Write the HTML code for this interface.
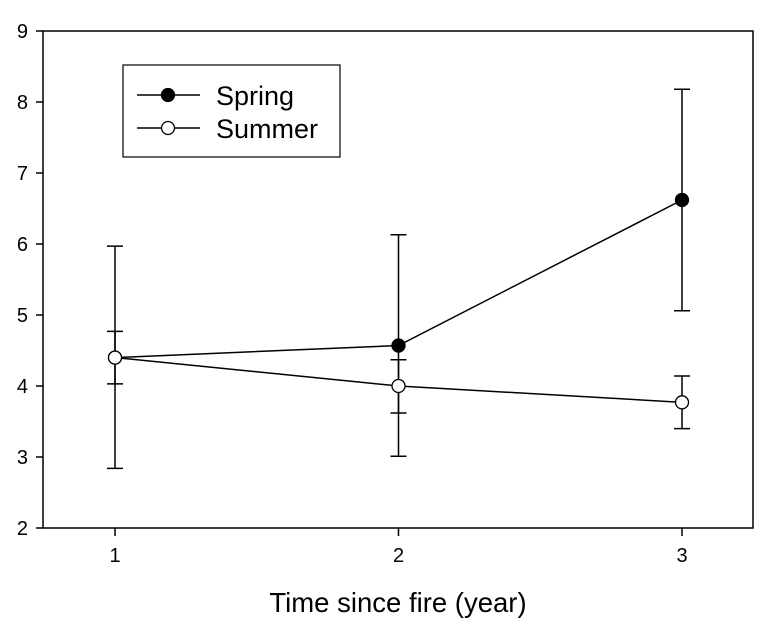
<!DOCTYPE html>
<html><head><meta charset="utf-8"><style>
html,body{margin:0;padding:0;background:#fff;}
svg{display:block;font-family:"Liberation Sans",Arial,sans-serif;}
</style></head><body>
<svg id="chart" width="768" height="624" viewBox="0 0 768 624"></svg>
<script>
const years = [1, 2, 3];
const springMean = [4.40, 4.57, 6.62];
const springLow = [2.84, 3.01, 5.06];
const springHigh = [5.97, 6.13, 8.18];
const summerMean = [4.40, 4.00, 3.77];
const summerLow = [4.03, 3.62, 3.40];
const summerHigh = [4.77, 4.37, 4.14];
const yTicks = [2, 3, 4, 5, 6, 7, 8, 9];
const xTicks = [1, 2, 3];

const NS = "http://www.w3.org/2000/svg";
const svg = document.getElementById("chart");
const L = 43, R = 753, T = 31, B = 528;
function xs(v){ return 115 + (v - 1) * 283.5; }
function ys(v){ return B - (v - 2) * (B - T) / 7; }
function mk(tag, attrs, parent){
  const e = document.createElementNS(NS, tag);
  for (const k in attrs) e.setAttribute(k, attrs[k]);
  (parent || svg).appendChild(e);
  return e;
}

const frame = mk("rect", {x:L, y:T, width:R-L, height:B-T, fill:"none", stroke:"#000", "stroke-width":1.5});



const yAxis = mk("g", {});


yTicks.forEach(v => {
  mk("line", {x1:L-7, x2:L, y1:ys(v), y2:ys(v), stroke:"#000", "stroke-width":1.5}, yAxis);
  const t = mk("text", {x:L-15, y:ys(v)+7, "text-anchor":"end", "font-size":20}, yAxis);
  t.textContent = v;
  
  
});
const xAxis = mk("g", {});


xTicks.forEach(v => {
  mk("line", {x1:xs(v), x2:xs(v), y1:B, y2:B+8, stroke:"#000", "stroke-width":1.5}, xAxis);
  const t = mk("text", {x:xs(v), y:B+34, "text-anchor":"middle", "font-size":20}, xAxis);
  t.textContent = v;
  
  
});
const xt = mk("text", {x:398, y:612, "text-anchor":"middle", "font-size":27.5});
xt.textContent = "Time since fire (year)";



function series(name, mean, low, high, fill){
  const g = mk("g", {});
  
  
  years.forEach((yr, i) => {
    const x = xs(yr);
    const eb = mk("path", {d:`M${x},${ys(low[i])}V${ys(high[i])}M${x-8},${ys(low[i])}h16M${x-8},${ys(high[i])}h16`, stroke:"#000", "stroke-width":1.5, fill:"none"}, g);
    
    
  });
  const pts = years.map((yr, i) => xs(yr) + "," + ys(mean[i])).join(" ");
  const ln = mk("polyline", {points:pts, fill:"none", stroke:"#000", "stroke-width":1.5}, g);
  
  
  years.forEach((yr, i) => {
    const c = mk("circle", {cx:xs(yr), cy:ys(mean[i]), r:6.5, fill:fill, stroke:"#000", "stroke-width":1.3}, g);
    
    
  });
}
series("spring", springMean, springLow, springHigh, "#000");
series("summer", summerMean, summerLow, summerHigh, "#fff");

const lg = mk("g", {});


mk("rect", {x:123, y:65, width:217, height:92, fill:"#fff", stroke:"#000", "stroke-width":1.2}, lg);
[["Spring","#000",95],["Summer","#fff",128]].forEach(([lab, f, y]) => {
  const e = mk("g", {}, lg);
  
  
  mk("line", {x1:137, x2:200, y1:y, y2:y, stroke:"#000", "stroke-width":1.5}, e);
  mk("circle", {cx:168, cy:y, r:6.5, fill:f, stroke:"#000", "stroke-width":1.3}, e);
  const t = mk("text", {x:216, y:y+10, "font-size":27}, e);
  t.textContent = lab;
});
</script>
</body></html>
